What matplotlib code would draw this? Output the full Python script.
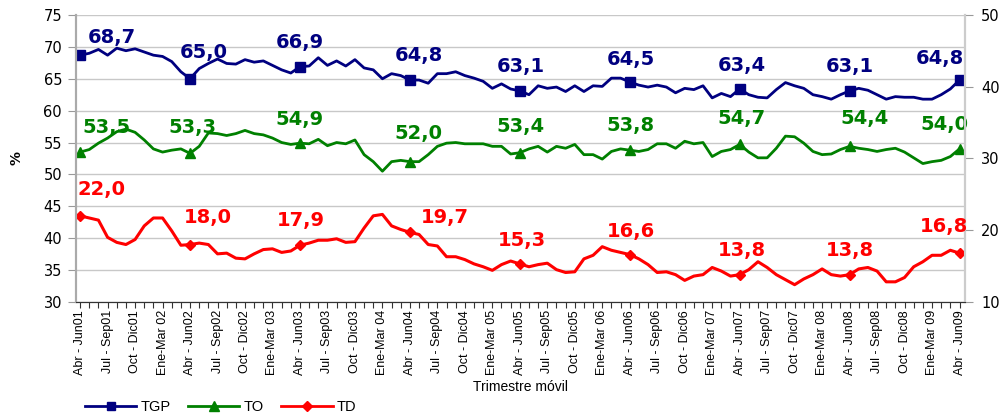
import matplotlib
matplotlib.use("Agg")
import matplotlib.pyplot as plt
from matplotlib.lines import Line2D

# rolling quarters Abr-Jun01 .. Abr-Jun09 (97 monthly points)
tgp = [68.7, 69.0, 69.6, 68.7, 69.8, 69.4, 69.7, 69.2, 68.7, 68.5,
       67.7, 66.1, 65.0, 66.6, 67.4, 68.1, 67.4, 67.3, 68.0, 67.6,
       67.8, 67.1, 66.4, 65.9, 66.9, 67.0, 68.3, 67.1, 67.8, 67.0,
       68.0, 66.7, 66.4, 65.0, 65.8, 65.5, 64.8, 64.8, 64.3, 65.8,
       65.8, 66.1, 65.5, 65.1, 64.6, 63.5, 64.2, 63.4, 63.1, 62.5,
       63.9, 63.5, 63.7, 63.0, 63.9, 63.0, 63.9, 63.8, 65.1, 65.1,
       64.5, 64.0, 63.7, 64.0, 63.7, 62.8, 63.5, 63.3, 63.9, 62.0,
       62.7, 62.2, 63.4, 62.5, 62.1, 62.0, 63.3, 64.4, 63.9, 63.5,
       62.5, 62.2, 61.8, 62.5, 63.1, 63.5, 63.2, 62.5, 61.8, 62.2,
       62.1, 62.1, 61.8, 61.8, 62.5, 63.4, 64.8]
to = [53.5, 53.9, 54.9, 55.7, 56.7, 57.1, 56.6, 55.4, 54.0, 53.5,
      53.8, 54.0, 53.3, 54.4, 56.5, 56.4, 56.1, 56.4, 56.9, 56.4,
      56.2, 55.7, 55.0, 54.7, 54.9, 54.8, 55.5, 54.5, 55.0, 54.8,
      55.4, 53.1, 52.0, 50.5, 52.0, 52.2, 52.0, 52.0, 53.1, 54.4,
      54.9, 55.0, 54.8, 54.8, 54.8, 54.4, 54.4, 53.2, 53.4, 54.0,
      54.4, 53.5, 54.4, 54.1, 54.7, 53.1, 53.1, 52.4, 53.6, 54.0,
      53.8, 53.6, 53.9, 54.8, 54.8, 54.1, 55.2, 54.8, 55.0, 52.8,
      53.6, 53.9, 54.7, 53.5, 52.6, 52.6, 54.1, 56.0, 55.9, 54.9,
      53.6, 53.1, 53.2, 53.9, 54.4, 54.1, 53.9, 53.6, 53.9, 54.1,
      53.5, 52.6, 51.7, 52.0, 52.2, 52.8, 54.0]
td = [22.0, 21.7, 21.4, 19.0, 18.3, 18.0, 18.7, 20.6, 21.7, 21.7,
      19.9, 17.9, 18.0, 18.2, 18.0, 16.7, 16.8, 16.1, 16.0, 16.7,
      17.3, 17.4, 16.9, 17.1, 17.9, 18.2, 18.6, 18.6, 18.8, 18.3,
      18.4, 20.3, 22.0, 22.2, 20.6, 20.1, 19.7, 19.4, 18.0, 17.8,
      16.3, 16.3, 15.9, 15.3, 14.9, 14.4, 15.2, 15.7, 15.3, 14.9,
      15.2, 15.4, 14.5, 14.1, 14.2, 16.0, 16.5, 17.7, 17.2, 16.9,
      16.6, 16.0, 15.2, 14.1, 14.2, 13.8, 13.0, 13.6, 13.8, 14.8,
      14.3, 13.6, 13.8, 14.5, 15.6, 14.8, 13.8, 13.1, 12.4, 13.2,
      13.8, 14.6, 13.8, 13.6, 13.8, 14.6, 14.8, 14.3, 12.8, 12.8,
      13.4, 14.9, 15.6, 16.5, 16.5, 17.2, 16.8]

quarters = ["Abr - Jun", "Jul - Sep", "Oct - Dic", "Ene-Mar "]
years = ["01", "02", "03", "04", "05", "06", "07", "08", "09"]
tick_labels = []
for k in range(33):
    q = k % 4
    y = years[(k + 1) // 4] if q == 3 else years[k // 4]
    tick_labels.append(quarters[q] + y)

x = list(range(len(tgp)))
marks = list(range(0, len(tgp), 12))

# label offsets in pixels (dx, dy) relative to marked point
off_tgp = [(32, 18), (14, 26), (0, 24), (9, 25), (1, 24), (1, 22), (2, 23), (0, 24), (-20, 22)]
off_to = [(26, 25), (2, 26), (0, 24), (9, 28), (1, 26), (1, 25), (2, 26), (15, 28), (-15, 24)]
off_td = [(21, 26), (18, 27), (1, 25), (35, 15), (2, 23), (1, 23), (2, 24), (0, 24), (-16, 27)]

navy, green, red = "#000080", "#008000", "#ff0000"

plt.rcParams["font.family"] = ["DejaVu Sans"]

fig = plt.figure(figsize=(10.04, 4.17), dpi=100)
ax = fig.add_axes([0.0757, 0.276, 0.885, 0.688])
ax2 = ax.twinx()

ax.plot(x, tgp, color=navy, lw=2, marker="s", ms=6.5, markevery=marks)
ax.plot(x, to, color=green, lw=2, marker="^", ms=7, markevery=marks)
ax2.plot(x, td, color=red, lw=2.2, marker="D", ms=5.5, markevery=marks)

def label(a, vals, offs, col):
    for j, i in enumerate(marks):
        dx, dy = offs[j]
        a.annotate(f"{vals[i]:.1f}".replace(".", ","), (i, vals[i]),
                   xytext=(dx, dy), textcoords="offset pixels",
                   ha="center", va="center", color=col,
                   fontsize=14, fontweight="bold")

label(ax, tgp, off_tgp, navy)
label(ax, to, off_to, green)
label(ax2, td, off_td, red)

ax.set_xlim(-0.45, 96.55)
ax.set_ylim(30, 75)
ax.set_yticks(range(30, 76, 5))
ax2.set_ylim(10, 50)
ax2.set_yticks(range(10, 51, 10))

ax.set_xticks(range(0, 97, 3))
ax.set_xticklabels(tick_labels, rotation=90, fontsize=9,
                   family=["Liberation Sans Narrow", "Liberation Sans"])
ax.set_xticks(range(97), minor=True)
ax.tick_params(axis="x", which="both", length=4, width=0.8, color="#333333", pad=2)
ax.tick_params(axis="y", length=6, color="#999999", labelsize=10.5, pad=4)
ax2.tick_params(axis="y", length=6, color="#999999", labelsize=10.5, pad=6)

ax.grid(axis="y", color="#c8c8c8", lw=1)
ax.set_axisbelow(True)
for a in (ax, ax2):
    a.spines["top"].set_visible(False)
    a.spines["left"].set_color("#aaaaaa")
    a.spines["right"].set_color("#cccccc")
    a.spines["bottom"].set_color("#333333")
    a.spines["left"].set_linewidth(1.5)
    a.spines["right"].set_linewidth(1.5)

ax.set_xlabel("Trimestre móvil", fontsize=10, family=["Liberation Sans"], labelpad=3)
ax.set_ylabel("%", fontsize=10, fontweight="bold", labelpad=14)

handles = [
    Line2D([], [], color=navy, lw=2, marker="s", ms=6),
    Line2D([], [], color=green, lw=2, marker="^", ms=7),
    Line2D([], [], color=red, lw=2, marker="D", ms=5),
]
fig.legend(handles, ["TGP", "TO", "TD"], loc="lower left", bbox_to_anchor=(0.072, -0.025),
           ncol=3, frameon=False, handlelength=3.5, columnspacing=1.2,
           handletextpad=0.3, prop={"family": "Liberation Sans", "size": 10.5})

fig.savefig("out.png", dpi=100)
